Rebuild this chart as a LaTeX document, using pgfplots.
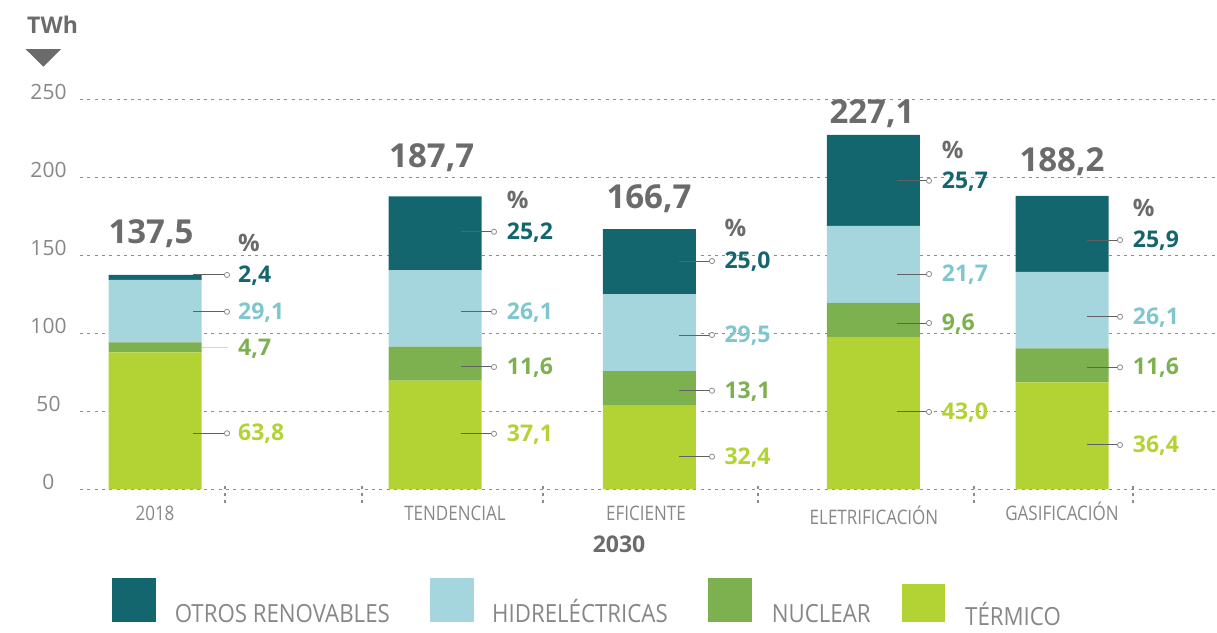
\documentclass[border=0pt]{standalone}
\usepackage{pgfplots}
\pgfplotsset{compat=1.18}
\usepackage{fontspec}
\setmainfont{Open Sans}
\usepackage{graphicx}

\definecolor{cOtros}{RGB}{20,102,110}
\definecolor{cHidro}{RGB}{166,214,221}
\definecolor{cNuc}{RGB}{125,176,79}
\definecolor{cTerm}{RGB}{179,211,53}
\definecolor{cHidroT}{RGB}{127,198,206}
\definecolor{cGrayT}{RGB}{107,107,107}
\definecolor{cTick}{RGB}{135,135,135}
\definecolor{cGrid}{RGB}{140,140,140}
\definecolor{cLight}{RGB}{200,225,170}

\newcommand{\fs}[1]{\fontsize{#1}{#1}\selectfont}
\newcommand{\val}[4]{\node[anchor=base west, inner sep=0pt, font=\fs{23}\bfseries, text=#3] at (axis cs:#1,#2) {#4};}
\newcommand{\tot}[3]{\node[anchor=base, inner sep=0pt, font=\fs{33}\bfseries, text=cGrayT] at (axis cs:#1,#2) {#3};}
\newcommand{\pct}[2]{\node[anchor=base west, inner sep=0pt, font=\fs{24}\bfseries, text=cGrayT] at (axis cs:#1,#2) {\%};}
\newcommand{\cat}[3]{\node[anchor=base, inner sep=0pt, font=\fs{20}, text=cTick] at (axis cs:#1,#2) {\scalebox{0.85}[1]{#3}};}
\newcommand{\leg}[3]{\node[anchor=base west, inner sep=0pt, font=\fs{25}, text=cTick] at (axis cs:#1,#2) {\scalebox{0.89}[1]{#3}};}

\begin{document}
\begin{tikzpicture}
\path[use as bounding box] (0pt,0pt) rectangle (1217pt,632pt);
\pgfplotsset{base/.style={scale only axis, width=1137pt, height=390pt,
  xmin=80, xmax=1217, ymin=0, ymax=250,
  at={(80pt,142.7pt)}, anchor=south west, clip=false}}

\begin{axis}[base, ybar stacked, bar width=93,
  axis line style={draw=none}, xtick=\empty, ytick={0,50,...,250},
  /pgf/number format/assume math mode=true,
  major tick length=0pt, ymajorgrids,
  grid style={cGrid, line width=1.1pt, dash pattern=on 3pt off 4.3pt},
  yticklabel style={anchor=center, xshift=-31.5pt, yshift=7.6pt, font=\fs{21}, text=cTick}]
\addplot[fill=cTerm, draw=none] coordinates {(155,87.7) (435,69.6) (649.3,54.0) (873.3,97.7) (1062,68.5)};
\addplot[fill=cNuc, draw=none] coordinates {(155,6.5) (435,21.8) (649.3,21.8) (873.3,21.8) (1062,21.8)};
\addplot[fill=cHidro, draw=none] coordinates {(155,40.0) (435,49.0) (649.3,49.2) (873.3,49.3) (1062,49.1)};
\addplot[fill=cOtros, draw=none] coordinates {(155,3.3) (435,47.3) (649.3,41.7) (873.3,58.4) (1062,48.7)};
\end{axis}

\begin{axis}[base, hide axis,
  leader/.style={draw=black!62, line width=1pt, mark=*, mark indices={2}, mark size=2.6pt,
    mark options={fill=white, draw=black!45, line width=0.8pt, solid}}]
% leader lines 2018
\addplot[leader] coordinates {(193,137.4) (227,137.4)};
\addplot[leader] coordinates {(193,113.8) (227,113.8)};
\addplot[draw=cLight, line width=1pt] coordinates {(202,90.6) (228,90.6)};
\addplot[leader] coordinates {(193,35.9) (227,35.9)};
% Tendencial
\addplot[leader] coordinates {(461,165.1) (494,165.1)};
\addplot[leader] coordinates {(461,113.8) (494,113.8)};
\addplot[leader] coordinates {(461,78.4) (494,78.4)};
\addplot[leader] coordinates {(461,35.6) (494,35.6)};
% Eficiente
\addplot[leader] coordinates {(679,146.3) (712,146.3)};
\addplot[leader] coordinates {(679,98.9) (712,98.9)};
\addplot[leader] coordinates {(679,63.2) (712,63.2)};
\addplot[leader] coordinates {(679,20.9) (712,20.9)};
% Eletrificacion
\addplot[leader] coordinates {(897,197.8) (929,197.8)};
\addplot[leader] coordinates {(897,138.0) (929,138.0)};
\addplot[leader] coordinates {(897,106.6) (929,106.6)};
\addplot[leader] coordinates {(897,49.6) (929,49.6)};
% Gasificacion
\addplot[leader] coordinates {(1087,159.8) (1120,159.8)};
\addplot[leader] coordinates {(1087,110.6) (1120,110.6)};
\addplot[leader] coordinates {(1087,78.2) (1120,78.2)};
\addplot[leader] coordinates {(1087,28.4) (1120,28.4)};

% values
\val{238}{132.6}{cOtros}{2,4}
\val{238}{109.0}{cHidroT}{29,1}
\val{238}{85.8}{cNuc}{4,7}
\val{238}{31.1}{cTerm}{63,8}
\val{506.7}{160.3}{cOtros}{25,2}
\val{506.7}{109.0}{cHidroT}{26,1}
\val{506.7}{73.6}{cNuc}{11,6}
\val{506.7}{30.8}{cTerm}{37,1}
\val{724.3}{141.5}{cOtros}{25,0}
\val{724.3}{94.1}{cHidroT}{29,5}
\val{724.3}{58.4}{cNuc}{13,1}
\val{724.3}{16.1}{cTerm}{32,4}
\val{941.7}{193.0}{cOtros}{25,7}
\val{941.7}{133.2}{cHidroT}{21,7}
\val{941.7}{101.8}{cNuc}{9,6}
\val{941.7}{44.8}{cTerm}{43,0}
\val{1132.7}{155.0}{cOtros}{25,9}
\val{1132.7}{105.8}{cHidroT}{26,1}
\val{1132.7}{73.4}{cNuc}{11,6}
\val{1132.7}{23.6}{cTerm}{36,4}

% totals
\tot{151}{157.4}{137,5}
\tot{431.7}{206.6}{187,7}
\tot{649}{179.8}{166,7}
\tot{872}{234.4}{227,1}
\tot{1062}{203.4}{188,2}

% percent signs
\pct{238}{152.3}
\pct{506.7}{180.1}
\pct{724.3}{162.0}
\pct{941.7}{212.2}
\pct{1132.7}{174.7}

% category labels
\cat{155}{-19.7}{2018}
\cat{455}{-19.7}{TENDENCIAL}
\cat{646}{-19.7}{EFICIENTE}
\cat{874}{-22.6}{ELETRIFICACIÓN}
\cat{1062}{-19.7}{GASIFICACIÓN}
\node[anchor=base, inner sep=0pt, font=\fs{23}\bfseries, text=cGrayT] at (axis cs:619,-40.6) {2030};

% separators
\foreach \sx in {225,362,543,758,974,1133}{
  \edef\temp{\noexpand\draw[cGrid, line width=1.1pt, dash pattern=on 3pt off 4pt] (axis cs:\sx,2.1) -- (axis cs:\sx,-11.3);}
  \temp
}

% unit
\node[anchor=base west, inner sep=0pt, font=\fs{23}\bfseries, text=cGrayT] at (axis cs:27,292.3) {TWh};
\fill[cGrayT] (axis cs:25.7,282.1) -- (axis cs:61,282.1) -- (axis cs:43.3,270.9) -- cycle;

% legend
\fill[cOtros] (axis cs:112,-56.9) rectangle (axis cs:156,-85.1);
\fill[cHidro] (axis cs:430,-56.9) rectangle (axis cs:474,-85.1);
\fill[cNuc] (axis cs:708,-56.9) rectangle (axis cs:752,-85.1);
\fill[cTerm] (axis cs:902,-60.7) rectangle (axis cs:945,-85.1);
\leg{174.6}{-85.1}{OTROS RENOVABLES}
\leg{492}{-85.1}{HIDRELÉCTRICAS}
\leg{771.7}{-85.1}{NUCLEAR}
\leg{965}{-87.6}{TÉRMICO}
\end{axis}
\end{tikzpicture}
\end{document}
